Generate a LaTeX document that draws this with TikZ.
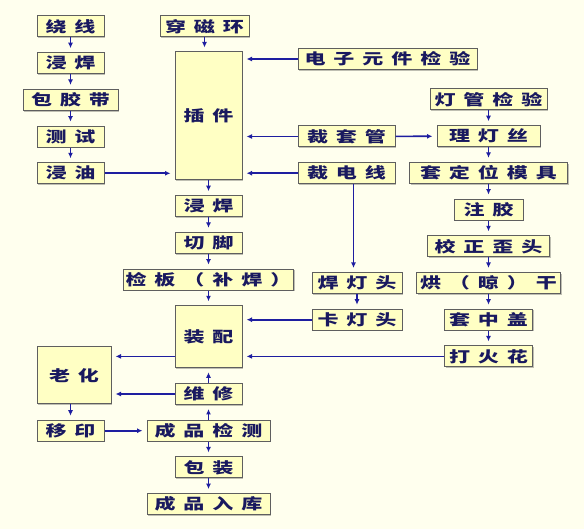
\documentclass[tikz,border=0pt]{standalone}
\usepackage{fontspec}
\newfontfamily\cjk[FakeStretch=1.4]{Noto Sans CJK SC}
\usetikzlibrary{arrows.meta, positioning, shadows}

\definecolor{paper}{RGB}{255,255,238}
\definecolor{boxfill}{RGB}{255,255,196}
\definecolor{boxline}{RGB}{95,95,95}
\definecolor{ink}{RGB}{25,25,95}
\definecolor{wire}{RGB}{30,30,160}

% spaced-out characters
\newcommand\spread[1]{\spreadi#1\relax}
\def\spreadi#1#2{#1\ifx#2\relax\else\hspace{8pt}\expandafter\spreadi\expandafter#2\fi}

\begin{document}
\begin{tikzpicture}[
    x=1pt, y=1pt,
    node distance=14.7pt,
    proc/.style={rectangle, draw=boxline, line width=1pt, fill=boxfill, minimum height=21pt, inner sep=0pt,
      font=\fontsize{15}{15}\selectfont\cjk\bfseries, text=ink,
      drop shadow={shadow xshift=1.2pt, shadow yshift=-1.2pt, opacity=0.25, fill=black}},
    arrow/.style={-{Latex[length=5.5pt, width=5pt]}, line width=1.7pt, draw=wire, shorten >=4pt}
  ]

    \fill[paper] (0,0) rectangle (584,529);
    \useasboundingbox (0,0) rectangle (584,529);

    % Left column
    \node[proc, minimum width=67pt] (rx) at (70.5,502.5) {\spread{绕线}};
    \node[proc, minimum width=67pt, below=of rx] (jh1) {\spread{浸焊}};
    \node[proc, minimum width=95pt, below=of jh1] (bjd) {\spread{包胶带}};
    \node[proc, minimum width=67pt, below=of bjd] (cs) {\spread{测试}};
    \node[proc, minimum width=67pt, below=of cs] (jy) {\spread{浸油}};

    % Main column
    \node[proc, minimum width=89pt] (ccr) at (204.5,502.5) {\spread{穿磁环}};
    \node[proc, minimum width=67pt, minimum height=128pt] (cj) at (208.5,413) {\spread{插件}};
    \node[proc, minimum width=67pt, below=of cj] (jh2) {\spread{浸焊}};
    \node[proc, minimum width=67pt, below=of jh2] (qj) {\spread{切脚}};
    \node[proc, minimum width=170pt, below=of qj] (jb) {\spread{检板（补焊）}};
    \node[proc, minimum width=67pt, minimum height=62pt, below=of jb] (zp) {\spread{装配}};
    \node[proc, minimum width=67pt, below=of zp] (wx) {\spread{维修}};
    \node[proc, minimum width=123pt, below=of wx] (cpjc) {\spread{成品检测}};
    \node[proc, minimum width=67pt, below=of cpjc] (bz) {\spread{包装}};
    \node[proc, minimum width=123pt, below=of bz] (cprk) {\spread{成品入库}};

    % Aging and printing
    \node[proc, minimum width=74pt, minimum height=57pt] (lh) at (74,153.5) {\spread{老化}};
    \node[proc, minimum width=67pt] (yy) at (cpjc -| rx) {\spread{移印}};

    % Parts preparation
    \node[proc, minimum width=179pt] (dzyj) at (387.5,470) {\spread{电子元件检验}};
    \node[proc, minimum width=97pt] (ctg) at (346.5,392.5) {\spread{裁套管}};
    \node[proc, minimum width=97pt, below=of ctg] (cdx) {\spread{裁电线}};
    \node[proc, minimum width=90pt] (hdt) at (357,246) {\spread{焊灯头}};
    \node[proc, minimum width=90pt, below=of hdt] (kdt) {\spread{卡灯头}};

    % Lamp tube column
    \node[proc, minimum width=117pt] (dgjy) at (488.5,429.5) {\spread{灯管检验}};
    \node[proc, minimum width=103pt, below=of dgjy] (lds) {\spread{理灯丝}};
    \node[proc, minimum width=158pt, below=of lds] (tdw) {\spread{套定位模具}};
    \node[proc, minimum width=69pt, below=of tdw] (zj) {\spread{注胶}};
    \node[proc, minimum width=122pt, below=of zj] (jzwt) {\spread{校正歪头}};
    \node[proc, minimum width=144pt, below=of jzwt] (hg) {\spread{烘（晾）干}};
    \node[proc, minimum width=88pt, below=of hg] (tzg) {\spread{套中盖}};
    \node[proc, minimum width=88pt, below=of tzg] (dhh) {\spread{打火花}};

    % Arrows - vertical chains
    \foreach \a/\b in {rx/jh1, jh1/bjd, bjd/cs, cs/jy, cj/jh2, jh2/qj, qj/jb, jb/zp, cpjc/bz, bz/cprk,
        dgjy/lds, lds/tdw, tdw/zj, zj/jzwt, jzwt/hg, hg/tzg, tzg/dhh, hdt/kdt, cpjc/wx, wx/zp}
      \draw[arrow] (\a) -- (\b);
    \draw[arrow] (ccr) -- (ccr |- cj.north);
    \draw[arrow] ([xshift=7pt]cdx.south) -- ([xshift=7pt]cdx.south |- hdt.north);
    \draw[arrow] (lh.south -| yy) -- (yy);

    % Arrows - into the insertion step
    \draw[arrow] (jy) -- (jy -| cj.west);
    \draw[arrow] (dzyj) -- (dzyj -| cj.east);
    \draw[arrow] (ctg) -- (ctg -| cj.east);
    \draw[arrow] (cdx) -- (cdx -| cj.east);
    \draw[arrow] (ctg) -- (lds);

    % Arrows - into and out of assembly
    \draw[arrow] (kdt) -- (kdt -| zp.east);
    \draw[arrow] (dhh) -- (dhh -| zp.east);
    \draw[arrow] (zp.west |- dhh) -- (lh.east |- dhh);
    \draw[arrow] (wx) -- (wx -| lh.east);
    \draw[arrow] (yy) -- (cpjc);

  \end{tikzpicture}
\end{document}
